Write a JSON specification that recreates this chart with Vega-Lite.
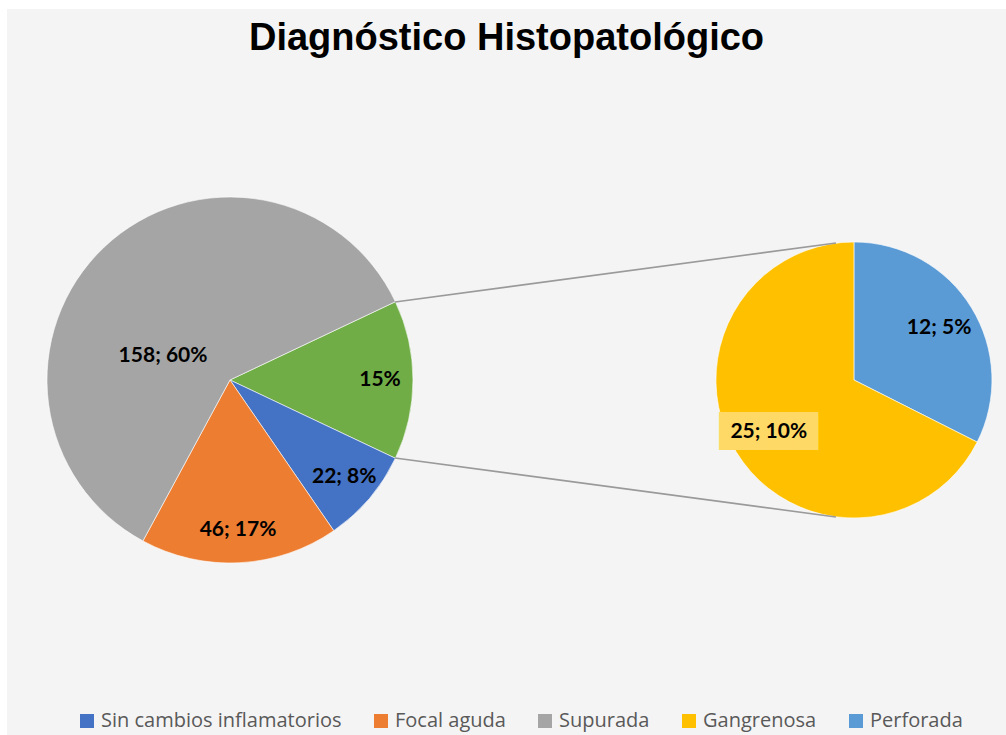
{
  "$schema": "https://vega.github.io/schema/vega-lite/v6.json",
  "width": 1006,
  "height": 735,
  "autosize": {"type": "fit", "contains": "padding"},
  "padding": {"left": 7, "top": 9, "right": 0, "bottom": 0},
  "background": "white",
  "config": {"view": {"fill": "#f4f4f4", "stroke": null}},
  "title": {
    "text": "Diagnóstico Histopatológico",
    "font": "Liberation Sans",
    "fontSize": 38,
    "fontWeight": "bold",
    "color": "#000000",
    "anchor": "middle",
    "frame": "group",
    "offset": -79,
    "baseline": "alphabetic"
  },
  "datasets": {
    "principal": [
      {"categoria": "Otros", "n": 37, "orden": 1, "etiqueta": "15%"},
      {"categoria": "Sin cambios inflamatorios", "n": 22, "orden": 2, "etiqueta": "22; 8%"},
      {"categoria": "Focal aguda", "n": 46, "orden": 3, "etiqueta": "46; 17%"},
      {"categoria": "Supurada", "n": 158, "orden": 4, "etiqueta": "158; 60%"}
    ],
    "secundario": [
      {"categoria": "Perforada", "n": 12, "orden": 1, "etiqueta": "12; 5%"},
      {"categoria": "Gangrenosa", "n": 25, "orden": 2, "etiqueta": "25; 10%"}
    ]
  },
  "layer": [
    {
      "data": {"name": "principal"},
      "layer": [
        {
          "mark": {"type": "arc", "outerRadius": 183, "stroke": "#ffffff", "strokeWidth": 0.6},
          "encoding": {
            "x": {"datum": 22.32, "type": "quantitative", "scale": {"domain": [0, 100], "nice": false, "zero": false}, "axis": null},
            "y": {"datum": 48.9, "type": "quantitative", "scale": {"domain": [0, 100], "nice": false, "zero": false}, "axis": null},
            "theta": {"field": "n", "type": "quantitative", "stack": true, "scale": {"range": [1.12888, 7.41207]}},
            "order": {"field": "orden", "type": "quantitative"},
            "color": {
              "field": "categoria",
              "type": "nominal",
              "scale": {
                "domain": ["Sin cambios inflamatorios", "Focal aguda", "Supurada", "Gangrenosa", "Perforada", "Otros"],
                "range": ["#4472C4", "#ED7D31", "#A5A5A5", "#FFC000", "#5B9BD5", "#70AD47"]
              },
              "legend": {
                "values": ["Sin cambios inflamatorios", "Focal aguda", "Supurada", "Gangrenosa", "Perforada"],
                "title": null,
                "orient": "none",
                "legendX": 70,
                "legendY": 702,
                "direction": "horizontal",
                "columns": 5,
                "symbolType": "square",
                "symbolSize": 196,
                "symbolStrokeWidth": 0,
                "symbolOpacity": 1,
                "labelFont": "Open Sans",
                "labelFontSize": 20,
                "labelColor": "#595959",
                "labelOffset": 4,
                "labelLimit": 400,
                "columnPadding": 29
              }
            }
          }
        },
        {
          "mark": {"type": "text", "radius": 150, "font": "Lato", "fontWeight": "bold", "fontSize": 21, "color": "#000000"},
          "encoding": {
            "x": {"datum": 22.32, "type": "quantitative"},
            "y": {"datum": 48.9, "type": "quantitative"},
            "theta": {"field": "n", "type": "quantitative", "stack": true},
            "order": {"field": "orden", "type": "quantitative"},
            "text": {"condition": {"test": "datum.categoria === 'Supurada'", "value": ""}, "field": "etiqueta", "type": "nominal"}
          }
        },
        {
          "transform": [{"filter": "datum.categoria === 'Supurada'"}],
          "mark": {"type": "text", "font": "Lato", "fontWeight": "bold", "fontSize": 21, "color": "#000000"},
          "encoding": {
            "x": {"datum": 15.62, "type": "quantitative"},
            "y": {"datum": 52.2, "type": "quantitative"},
            "text": {"field": "etiqueta", "type": "nominal"}
          }
        }
      ]
    },
    {
      "data": {"name": "secundario"},
      "layer": [
        {
          "mark": {"type": "arc", "outerRadius": 138, "stroke": "#ffffff", "strokeWidth": 0.6},
          "encoding": {
            "x": {"datum": 84.78, "type": "quantitative"},
            "y": {"datum": 48.9, "type": "quantitative"},
            "theta": {"field": "n", "type": "quantitative", "stack": true},
            "order": {"field": "orden", "type": "quantitative"},
            "color": {"field": "categoria", "type": "nominal"}
          }
        },
        {
          "mark": {"type": "text", "radius": 100, "font": "DejaVu Sans", "fontSize": 32, "color": "#FFD966"},
          "encoding": {
            "x": {"datum": 84.78, "type": "quantitative"},
            "y": {"datum": 48.9, "type": "quantitative"},
            "theta": {"field": "n", "type": "quantitative", "stack": true},
            "order": {"field": "orden", "type": "quantitative"},
            "text": {"condition": {"test": "datum.categoria === 'Gangrenosa'", "value": "████"}, "value": ""}
          }
        },
        {
          "mark": {"type": "text", "radius": 100, "font": "Lato", "fontWeight": "bold", "fontSize": 21, "color": "#000000"},
          "encoding": {
            "x": {"datum": 84.78, "type": "quantitative"},
            "y": {"datum": 48.9, "type": "quantitative"},
            "theta": {"field": "n", "type": "quantitative", "stack": true},
            "order": {"field": "orden", "type": "quantitative"},
            "text": {"field": "etiqueta", "type": "nominal"}
          }
        }
      ]
    },
    {
      "data": {"values": [{}]},
      "mark": {"type": "rule", "color": "#9a9a9a", "strokeWidth": 1.6},
      "encoding": {
        "x": {"datum": 38.84, "type": "quantitative"},
        "y": {"datum": 59.64, "type": "quantitative"},
        "x2": {"datum": 82.98},
        "y2": {"datum": 67.77}
      }
    },
    {
      "data": {"values": [{}]},
      "mark": {"type": "rule", "color": "#9a9a9a", "strokeWidth": 1.6},
      "encoding": {
        "x": {"datum": 38.84, "type": "quantitative"},
        "y": {"datum": 38.15, "type": "quantitative"},
        "x2": {"datum": 82.98},
        "y2": {"datum": 30.03}
      }
    }
  ],
  "resolve": {"scale": {"theta": "independent"}}
}
